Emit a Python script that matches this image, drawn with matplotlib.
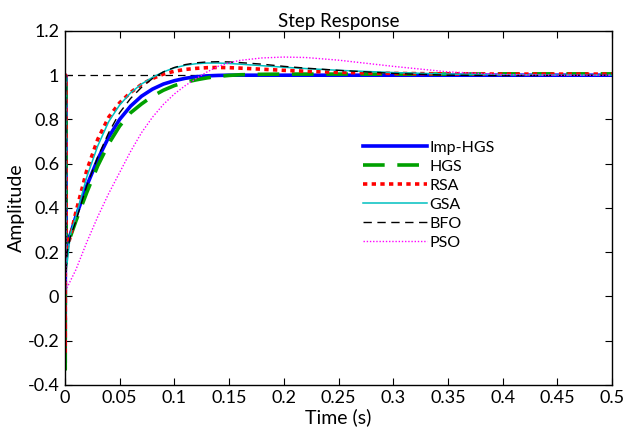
import numpy as np
import matplotlib
matplotlib.use('Agg')
import matplotlib.pyplot as plt

plt.rcParams['font.family'] = ['Lato', 'DejaVu Sans']

# time samples (s)
t = [0, 0.0003, 0.0006, 0.001, 0.002, 0.005,
     0.01, 0.02, 0.03, 0.04, 0.05, 0.06, 0.07, 0.08, 0.09, 0.10,
     0.11, 0.12, 0.13, 0.14, 0.15, 0.16,
     0.18, 0.20, 0.22, 0.25, 0.30, 0.35, 0.40, 0.45, 0.50]

imp_hgs = [0, -0.30, 1.0, 0.20, 0.25, 0.28,
           0.36, 0.50, 0.62, 0.72, 0.80, 0.86, 0.905, 0.937, 0.96, 0.975,
           0.986, 0.993, 0.997, 0.999, 1.0, 1.0,
           1.0, 1.0, 1.0, 1.0, 1.0, 1.0, 1.0, 1.0, 1.0]
hgs = [0, -0.33, 1.0, 0.15, 0.25, 0.27,
       0.34, 0.47, 0.59, 0.69, 0.77, 0.83, 0.87, 0.905, 0.932, 0.953,
       0.968, 0.979, 0.988, 0.995, 0.999, 1.002,
       1.004, 1.005, 1.005, 1.005, 1.005, 1.005, 1.006, 1.006, 1.006]
rsa = [0, -0.25, 1.0, 0.18, 0.22, 0.27,
       0.38, 0.57, 0.71, 0.81, 0.875, 0.922, 0.958, 0.985, 1.005, 1.018,
       1.026, 1.031, 1.034, 1.035, 1.034, 1.032,
       1.027, 1.022, 1.018, 1.013, 1.008, 1.006, 1.005, 1.005, 1.005]
gsa = [0, -0.33, 1.0, 0.12, 0.15, 0.28,
       0.36, 0.54, 0.68, 0.79, 0.865, 0.92, 0.96, 0.99, 1.015, 1.033,
       1.045, 1.052, 1.055, 1.055, 1.053, 1.05,
       1.043, 1.036, 1.03, 1.022, 1.012, 1.005, 1.002, 1.001, 1.0]
bfo = [0, -0.33, 1.0, 0.10, 0.20, 0.27,
       0.34, 0.50, 0.63, 0.74, 0.83, 0.895, 0.945, 0.985, 1.015, 1.035,
       1.048, 1.056, 1.06, 1.061, 1.06, 1.057,
       1.05, 1.04, 1.032, 1.022, 1.008, 1.0, 0.998, 0.999, 1.0]
pso = [0, 1.0, 0.5, 0.03, 0.04, 0.07,
       0.12, 0.245, 0.36, 0.465, 0.56, 0.655, 0.74, 0.81, 0.868, 0.915,
       0.953, 0.985, 1.015, 1.04, 1.056, 1.067,
       1.078, 1.082, 1.08, 1.068, 1.04, 1.015, 1.003, 1.0, 1.0]

labels = ['Imp-HGS', 'HGS', 'RSA', 'GSA', 'BFO', 'PSO']

xticks = [0, 0.05, 0.1, 0.15, 0.2, 0.25, 0.3, 0.35, 0.4, 0.45, 0.5]
xticklabels = ['0', '0.05', '0.1', '0.15', '0.2', '0.25', '0.3', '0.35', '0.4', '0.45', '0.5']
yticks = [-0.4, -0.2, 0, 0.2, 0.4, 0.6, 0.8, 1.0, 1.2]
yticklabels = ['-0.4', '-0.2', '0', '0.2', '0.4', '0.6', '0.8', '1', '1.2']

fig = plt.figure(figsize=(6.24, 4.30), dpi=100)
ax = fig.add_axes([0.104, 0.105, 0.877, 0.823])

# reference step
ax.axhline(1.0, color='k', lw=0.9, dashes=(6, 4))

ax.plot(t, imp_hgs, color='#0000ff', lw=2.6, label=labels[0])
ax.plot(t, hgs, color='#00a000', lw=2.6, dashes=(6, 3.5), label=labels[1])
ax.plot(t, rsa, color='#ff0000', lw=2.6, dashes=(1.2, 1.2), label=labels[2])
ax.plot(t, gsa, color='#00c0c0', lw=1.1, label=labels[3])
ax.plot(t, bfo, color='k', lw=1.0, dashes=(6, 4), label=labels[4])
ax.plot(t, pso, color='#ff00ff', lw=1.0, dashes=(1, 1.3), label=labels[5])

ax.set_xlim(0, 0.5)
ax.set_ylim(-0.4, 1.2)
ax.set_xticks(xticks)
ax.set_xticklabels(xticklabels)
ax.set_yticks(yticks)
ax.set_yticklabels(yticklabels)
ax.tick_params(direction='in', top=True, right=True, length=5, width=0.8,
               labelsize=13, pad=4)
for s in ax.spines.values():
    s.set_linewidth(1.0)

ax.set_title('Step Response', fontsize=13.5, pad=3)
ax.set_xlabel('Time (s)', fontsize=14, labelpad=1)
ax.set_ylabel('Amplitude', fontsize=14, labelpad=2)

ax.legend(loc='center', bbox_to_anchor=(0.665, 0.536), frameon=False,
          fontsize=11.5, handlelength=4.0, handletextpad=0.15, labelspacing=0.3)

fig.savefig('out.png', dpi=100)
